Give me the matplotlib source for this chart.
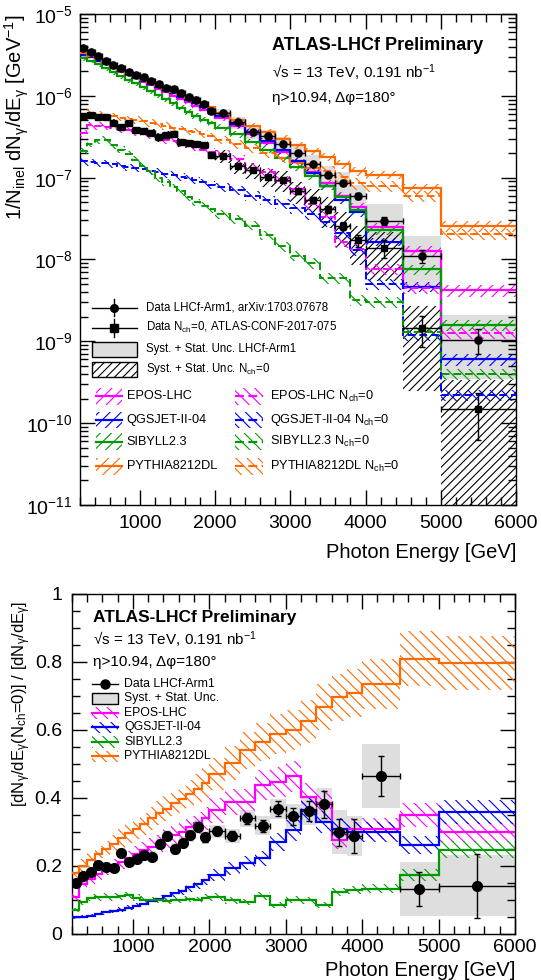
import numpy as np
import matplotlib
matplotlib.use("Agg")
import matplotlib.pyplot as plt
from matplotlib.patches import Rectangle
from matplotlib.lines import Line2D
from matplotlib.ticker import MultipleLocator, LogLocator, NullFormatter, FuncFormatter

plt.rcParams['font.family'] = ['Liberation Sans', 'DejaVu Sans']
plt.rcParams['mathtext.fontset'] = 'custom'
plt.rcParams['mathtext.rm'] = 'Liberation Sans'
plt.rcParams['mathtext.it'] = 'Liberation Sans:italic'
plt.rcParams['mathtext.bf'] = 'Liberation Sans:bold'
plt.rcParams['hatch.linewidth'] = 0.8

# ---------------- data ----------------
bin_edges = [200, 300, 400, 500, 600, 700, 800, 900, 1000, 1100, 1200, 1300, 1400, 1500,
             1600, 1700, 1800, 1900, 2000, 2200, 2400, 2600, 2800, 3000, 3200, 3400, 3600,
             3800, 4000, 4500, 5000, 6000]

incl_data = [3.81e-6, 3.40e-6, 3.07e-6, 2.69e-6, 2.38e-6, 2.17e-6, 1.97e-6, 1.79e-6, 1.68e-6,
             1.53e-6, 1.39e-6, 1.24e-6, 1.20e-6, 1.09e-6, 9.8e-7, 8.9e-7, 7.9e-7, 6.6e-7,
             6.1e-7, 4.74e-7, 3.64e-7, 3.23e-7, 2.55e-7, 1.98e-7, 1.47e-7, 1.08e-7, 8.7e-8,
             5.96e-8, 2.97e-8, 1.10e-8, 1.05e-9]
incl_stat = [0.01] * 18 + [0.015, 0.02, 0.02, 0.025, 0.03, 0.035, 0.04, 0.05, 0.06, 0.08,
                           0.12, 0.18, 0.33]
incl_syst_up = [0.07, 0.07, 0.07, 0.07, 0.07, 0.07, 0.08, 0.08, 0.09, 0.09, 0.09, 0.10, 0.10,
                0.10, 0.11, 0.11, 0.11, 0.12, 0.14, 0.16, 0.18, 0.20, 0.22, 0.25, 0.28, 0.30,
                0.33, 0.38, 0.60, 0.77, 1.00]
incl_syst_dn = [0.07, 0.07, 0.07, 0.07, 0.07, 0.07, 0.08, 0.08, 0.09, 0.09, 0.09, 0.10, 0.10,
                0.10, 0.11, 0.11, 0.11, 0.12, 0.14, 0.16, 0.18, 0.20, 0.22, 0.25, 0.28, 0.30,
                0.33, 0.38, 0.42, 0.60, 0.67]

nch0_data = [5.64e-7, 5.78e-7, 5.59e-7, 5.46e-7, 4.69e-7, 4.17e-7, 4.65e-7, 3.78e-7, 3.68e-7,
             3.53e-7, 3.14e-7, 3.29e-7, 3.46e-7, 2.70e-7, 2.63e-7, 2.58e-7, 2.48e-7, 1.87e-7,
             1.84e-7, 1.37e-7, 1.23e-7, 1.02e-7, 9.36e-8, 6.85e-8, 5.31e-8, 4.10e-8, 2.59e-8,
             1.71e-8, 1.38e-8, 1.44e-9, 1.48e-10]
nch0_stat_up = [0.02] * 18 + [0.03, 0.035, 0.04, 0.05, 0.06, 0.07, 0.08, 0.10, 0.12, 0.18,
                              0.25, 0.40, 0.57]
nch0_stat_dn = [0.02] * 18 + [0.03, 0.035, 0.04, 0.05, 0.06, 0.07, 0.08, 0.10, 0.12, 0.18,
                              0.25, 0.40, 0.58]
nch0_syst_up = [0.10] * 8 + [0.12] * 10 + [0.18, 0.20, 0.22, 0.25, 0.28, 0.30, 0.35, 0.40,
                                           0.45, 0.50, 0.55, 0.90, 1.30]
nch0_syst_dn = [0.10] * 8 + [0.12] * 10 + [0.18, 0.20, 0.22, 0.25, 0.28, 0.30, 0.35, 0.40,
                                           0.45, 0.50, 0.60, 0.83, 0.97]

ratio_data = [0.148, 0.170, 0.182, 0.203, 0.197, 0.192, 0.236, 0.211, 0.219, 0.231, 0.226,
              0.265, 0.288, 0.248, 0.268, 0.290, 0.314, 0.283, 0.301, 0.288, 0.339, 0.317,
              0.367, 0.346, 0.361, 0.380, 0.298, 0.287, 0.464, 0.131, 0.141]
ratio_stat = [0.004, 0.004, 0.004, 0.005, 0.005, 0.005, 0.006, 0.006, 0.007, 0.007, 0.008,
              0.009, 0.010, 0.010, 0.011, 0.012, 0.013, 0.014, 0.012, 0.013, 0.016, 0.018,
              0.022, 0.025, 0.030, 0.040, 0.040, 0.050, 0.058, 0.050, 0.094]
ratio_syst = [0.012, 0.012, 0.012, 0.012, 0.013, 0.013, 0.015, 0.015, 0.015, 0.016, 0.016,
              0.018, 0.018, 0.018, 0.020, 0.020, 0.020, 0.020, 0.020, 0.020, 0.025, 0.028,
              0.030, 0.035, 0.040, 0.050, 0.065, 0.060, 0.095, 0.080, 0.090]

models = ['EPOS-LHC', 'QGSJET-II-04', 'SIBYLL2.3', 'PYTHIA8212DL']
model_colors = ['#ff00ff', '#0000ff', '#009a00', '#ff6a00']

epos_incl = [3.25e-6, 3.0e-6, 2.7e-6, 2.42e-6, 2.17e-6, 1.97e-6, 1.79e-6, 1.63e-6, 1.48e-6,
             1.35e-6, 1.22e-6, 1.10e-6, 1.0e-6, 9.1e-7, 8.3e-7, 7.5e-7, 6.8e-7, 6.1e-7, 5.4e-7,
             4.3e-7, 3.4e-7, 2.65e-7, 2.05e-7, 1.55e-7, 1.18e-7, 8.5e-8, 6.0e-8, 4.4e-8, 2.5e-8,
             1.28e-8, 4.2e-9]
qgsjet_incl = [3.15e-6, 2.95e-6, 2.7e-6, 2.45e-6, 2.2e-6, 2.0e-6, 1.83e-6, 1.67e-6, 1.53e-6,
               1.40e-6, 1.28e-6, 1.17e-6, 1.07e-6, 9.8e-7, 8.9e-7, 8.1e-7, 7.3e-7, 6.6e-7,
               5.7e-7, 4.5e-7, 3.6e-7, 2.8e-7, 2.15e-7, 1.6e-7, 1.15e-7, 8.0e-8, 5.4e-8, 3.8e-8,
               1.65e-8, 4.6e-9, 6.0e-10]
sibyll_incl = [2.9e-6, 2.7e-6, 2.45e-6, 2.2e-6, 1.97e-6, 1.77e-6, 1.58e-6, 1.42e-6, 1.27e-6,
               1.14e-6, 1.02e-6, 9.1e-7, 8.1e-7, 7.2e-7, 6.4e-7, 5.7e-7, 5.1e-7, 4.6e-7, 4.1e-7,
               3.4e-7, 2.75e-7, 2.2e-7, 1.75e-7, 1.35e-7, 1.05e-7, 8.0e-8, 5.8e-8, 4.0e-8,
               2.29e-8, 7.6e-9, 1.58e-9]
pythia_incl = [3.35e-6, 3.1e-6, 2.8e-6, 2.5e-6, 2.25e-6, 2.05e-6, 1.87e-6, 1.72e-6, 1.58e-6,
               1.45e-6, 1.33e-6, 1.22e-6, 1.12e-6, 1.03e-6, 9.5e-7, 8.7e-7, 8.0e-7, 7.3e-7,
               6.2e-7, 5.1e-7, 4.3e-7, 3.6e-7, 3.0e-7, 2.5e-7, 2.1e-7, 1.8e-7, 1.45e-7, 1.2e-7,
               1.08e-7, 7.4e-8, 2.56e-8]

epos_nch0 = [3.5e-7, 4.4e-7, 4.3e-7, 4.2e-7, 4.1e-7, 3.9e-7, 3.8e-7, 3.6e-7, 3.5e-7, 3.3e-7,
             3.1e-7, 2.9e-7, 2.8e-7, 2.64e-7, 2.5e-7, 2.36e-7, 2.2e-7, 2.07e-7, 1.96e-7,
             1.67e-7, 1.32e-7, 1.16e-7, 9.1e-8, 7.2e-8, 4.7e-8, 3.3e-8, 1.65e-8, 1.36e-8,
             7.7e-9, 4.5e-9, 1.25e-9]
qgsjet_nch0 = [1.6e-7, 1.55e-7, 1.52e-7, 1.5e-7, 1.45e-7, 1.4e-7, 1.35e-7, 1.32e-7, 1.28e-7,
               1.22e-7, 1.17e-7, 1.12e-7, 1.08e-7, 1.03e-7, 9.8e-8, 9.3e-8, 8.8e-8, 8.2e-8,
               7.6e-8, 7.0e-8, 6.0e-8, 5.3e-8, 4.8e-8, 4.2e-8, 3.6e-8, 2.9e-8, 2.1e-8, 1.3e-8,
               5.0e-9, 1.2e-9, 2.2e-10]
sibyll_nch0 = [2.1e-7, 2.6e-7, 2.9e-7, 2.9e-7, 2.5e-7, 2.2e-7, 1.95e-7, 1.65e-7, 1.4e-7,
               1.2e-7, 1.0e-7, 8.8e-8, 7.6e-8, 6.8e-8, 5.8e-8, 5.0e-8, 4.5e-8, 4.1e-8, 3.6e-8,
               3.1e-8, 2.6e-8, 2.0e-8, 1.45e-8, 1.1e-8, 9.0e-9, 5.9e-9, 5.9e-9, 3.2e-9, 3.0e-9,
               1.3e-9, 4.0e-10]
pythia_nch0 = [5.9e-7, 6.2e-7, 6.0e-7, 5.8e-7, 5.6e-7, 5.4e-7, 5.2e-7, 5.1e-7, 4.9e-7, 4.7e-7,
               4.5e-7, 4.3e-7, 4.1e-7, 3.9e-7, 3.75e-7, 3.6e-7, 3.4e-7, 3.2e-7, 2.9e-7, 2.56e-7,
               2.3e-7, 2.0e-7, 1.76e-7, 1.5e-7, 1.31e-7, 1.2e-7, 1.01e-7, 8.5e-8, 7.9e-8, 6.0e-8,
               2.04e-8]

epos_ratio = [0.108, 0.146, 0.160, 0.175, 0.190, 0.200, 0.212, 0.222, 0.235, 0.245, 0.255,
              0.265, 0.280, 0.290, 0.300, 0.315, 0.325, 0.340, 0.363, 0.388, 0.388, 0.437,
              0.446, 0.463, 0.402, 0.385, 0.275, 0.309, 0.309, 0.349, 0.298]
qgsjet_ratio = [0.049, 0.050, 0.053, 0.058, 0.062, 0.066, 0.070, 0.076, 0.082, 0.088, 0.095,
                0.102, 0.110, 0.118, 0.126, 0.136, 0.146, 0.158, 0.172, 0.192, 0.207, 0.221,
                0.270, 0.304, 0.363, 0.329, 0.309, 0.299, 0.299, 0.260, 0.358]
sibyll_ratio = [0.069, 0.093, 0.105, 0.108, 0.108, 0.108, 0.110, 0.112, 0.105, 0.100, 0.098,
                0.100, 0.095, 0.098, 0.100, 0.102, 0.098, 0.106, 0.108, 0.098, 0.093, 0.110,
                0.085, 0.100, 0.098, 0.084, 0.123, 0.128, 0.132, 0.172, 0.247]
pythia_ratio = [0.177, 0.199, 0.216, 0.233, 0.248, 0.265, 0.280, 0.295, 0.309, 0.324, 0.339,
                0.354, 0.368, 0.383, 0.395, 0.412, 0.427, 0.442, 0.471, 0.502, 0.540, 0.564,
                0.587, 0.599, 0.625, 0.667, 0.696, 0.708, 0.736, 0.809, 0.797]

mc_incl_rel = [0.08] * 8 + [0.08] * 10 + [0.09, 0.09, 0.09, 0.10, 0.10, 0.10, 0.11, 0.11, 0.12,
                                          0.12, 0.12, 0.14, 0.16]
mc_nch0_rel = [0.10] * 8 + [0.11] * 10 + [0.12, 0.12, 0.13, 0.13, 0.14, 0.14, 0.15, 0.15, 0.16,
                                          0.16, 0.15, 0.15, 0.15]
mc_ratio_rel = 0.10

incl_models = [epos_incl, qgsjet_incl, sibyll_incl, pythia_incl]
nch0_models = [epos_nch0, qgsjet_nch0, sibyll_nch0, pythia_nch0]
ratio_models = [epos_ratio, qgsjet_ratio, sibyll_ratio, pythia_ratio]

# ---------------- helpers ----------------
e = np.array(bin_edges, dtype=float)
left = e[:-1]
width = np.diff(e)
cent = left + width / 2
hw = width / 2


def box(ax, lo, hi, **kw):
    lo = np.asarray(lo); hi = np.asarray(hi)
    ax.bar(left, hi - lo, bottom=lo, width=width, align='edge', **kw)


def style_axes(ax):
    ax.tick_params(which='both', direction='in', top=True, right=True, labelsize=14)
    ax.tick_params(which='major', length=11, width=1.0)
    ax.tick_params(which='minor', length=6, width=1.0)
    for s in ax.spines.values():
        s.set_linewidth(1.0)


fig = plt.figure(figsize=(5.41, 9.8), dpi=100)
W, H = 541.0, 980.0
ax1 = fig.add_axes([79.6 / W, 1 - 505 / H, 436.4 / W, 491 / H])
ax2 = fig.add_axes([71.7 / W, 1 - 933.5 / H, 443.3 / W, 339.5 / H])

# ---------------- top panel ----------------
incl = np.array(incl_data)
nch0 = np.array(nch0_data)

box(ax1, incl * (1 - np.array(incl_syst_dn)), incl * (1 + np.array(incl_syst_up)),
    color='#dedede', linewidth=0, zorder=1)
box(ax1, nch0 * (1 - np.array(nch0_syst_dn)), nch0 * (1 + np.array(nch0_syst_up)),
    fill=False, hatch='////', edgecolor='k', linewidth=0, zorder=2)

ri = np.array(mc_incl_rel)
rn = np.array(mc_nch0_rel)
for vals, col in zip(incl_models, model_colors):
    v = np.array(vals)
    box(ax1, v * (1 - ri), v * (1 + ri), fill=False, hatch='///', edgecolor=col,
        linewidth=0, zorder=3)
for vals, col in zip(nch0_models, model_colors):
    v = np.array(vals)
    box(ax1, v * (1 - rn), v * (1 + rn), fill=False, hatch='\\\\\\', edgecolor=col,
        linewidth=0, zorder=3)
for vals, col in zip(incl_models, model_colors):
    ax1.stairs(vals, e, color=col, lw=1.6, baseline=None, zorder=4)
for vals, col in zip(nch0_models, model_colors):
    ax1.stairs(vals, e, color=col, lw=1.4, ls=(0, (4, 2)), baseline=None, zorder=4)

ax1.errorbar(cent, incl, xerr=hw, yerr=incl * np.array(incl_stat), fmt='o', color='k', ms=5.2,
             lw=1.0, capsize=2, zorder=6)
ax1.errorbar(cent, nch0, xerr=hw,
             yerr=[nch0 * np.array(nch0_stat_dn), nch0 * np.array(nch0_stat_up)],
             fmt='s', color='k', ms=5.0, lw=1.0, capsize=2, zorder=6)

ax1.set_yscale('log')
ax1.set_xlim(200, 6000)
ax1.set_ylim(1e-11, 1e-5)
ax1.xaxis.set_major_locator(MultipleLocator(1000))
ax1.xaxis.set_minor_locator(MultipleLocator(200))
ax1.yaxis.set_major_locator(LogLocator(base=10, numticks=12))
ax1.yaxis.set_minor_locator(LogLocator(base=10, subs=np.arange(2, 10), numticks=12))
ax1.yaxis.set_minor_formatter(NullFormatter())
style_axes(ax1)
ax1.tick_params(axis='x', pad=7)
ax1.tick_params(axis='y', pad=5)

ax1.set_ylabel('1/N$_{\\mathrm{inel}}$ dN$_{\\mathrm{\u03b3}}$/dE$_{\\mathrm{\u03b3}}$ [GeV$^{\\mathrm{-1}}$]',
               fontsize=14.5, loc='top')
ax1.yaxis.set_label_coords(-0.112, 1.0)
ax1.set_xlabel('Photon Energy [GeV]', fontsize=14.5, loc='right')
ax1.xaxis.set_label_coords(1.0, -0.078)

ax1.text(0.441, 0.935, 'ATLAS-LHCf Preliminary', transform=ax1.transAxes, fontsize=13,
         fontweight='bold', va='center', ha='left')
ax1.text(0.441, 0.880, '\u221as = 13 TeV, 0.191 nb$^{\\mathrm{-1}}$', transform=ax1.transAxes,
         fontsize=11, va='center', ha='left')
ax1.text(0.441, 0.829, '\u03b7>10.94, \u0394\u03c6=180\u00b0', transform=ax1.transAxes,
         fontsize=11, va='center', ha='left')

# legend (top)
T = ax1.transAxes
lx0, lx1, tx = 0.028, 0.131, 0.152
rows = [0.402, 0.361, 0.317, 0.276]
for y, mk, lab in [(rows[0], 'o', 'Data LHCf-Arm1, arXiv:1703.07678'),
                   (rows[1], 's', 'Data N$_{\\mathrm{ch}}$=0, ATLAS-CONF-2017-075')]:
    ax1.add_line(Line2D([lx0, lx1], [y, y], color='k', lw=1.0, transform=T, zorder=7))
    ax1.add_line(Line2D([(lx0 + lx1) / 2] * 2, [y - 0.018, y + 0.018], color='k', lw=1.0,
                        transform=T, zorder=7))
    ax1.add_line(Line2D([(lx0 + lx1) / 2], [y], marker=mk, ms=5.5, color='k', transform=T,
                        zorder=7))
    ax1.text(tx, y, lab, transform=T, fontsize=8.3, va='center', ha='left')
ax1.add_patch(Rectangle((lx0, rows[2] - 0.015), lx1 - lx0, 0.03, transform=T,
                        facecolor='#dedede', edgecolor='k', lw=1.0, zorder=7))
ax1.text(tx, rows[2], 'Syst. + Stat. Unc. LHCf-Arm1', transform=T, fontsize=8.3,
         va='center', ha='left')
ax1.add_patch(Rectangle((lx0, rows[3] - 0.015), lx1 - lx0, 0.03, transform=T,
                        facecolor='white', edgecolor='k', hatch='////', lw=1.0, zorder=7))
ax1.text(tx, rows[3], 'Syst. + Stat. Unc. N$_{\\mathrm{ch}}$=0', transform=T, fontsize=8.3,
         va='center', ha='left')

mrows = [0.221, 0.173, 0.129, 0.079]
for y, name, col in zip(mrows, models, model_colors):
    for (a, b, t, hatch, ls, suffix) in [(0.038, 0.097, 0.108, '///', '-', ''),
                                          (0.356, 0.420, 0.436, '\\\\\\', (0, (4, 2)),
                                           ' N$_{\\mathrm{ch}}$=0')]:
        ax1.add_patch(Rectangle((a, y - 0.017), b - a, 0.034, transform=T, fill=False,
                                hatch=hatch, edgecolor=col, lw=0, zorder=7))
        ax1.add_line(Line2D([a, b], [y, y], color=col, lw=1.6, ls=ls, transform=T, zorder=8))
        ax1.text(t, y, name + suffix, transform=T, fontsize=9.2, va='center', ha='left')

# ---------------- bottom panel ----------------
rd = np.array(ratio_data)
rs = np.array(ratio_syst)
box(ax2, rd - rs, rd + rs, color='#dedede', linewidth=0, zorder=1)
for vals, col in zip(ratio_models, model_colors):
    v = np.array(vals)
    box(ax2, v * (1 - mc_ratio_rel), v * (1 + mc_ratio_rel), fill=False, hatch='\\\\\\',
        edgecolor=col, linewidth=0, zorder=3)
    ax2.stairs(vals, e, color=col, lw=1.6, baseline=None, zorder=4)
ax2.errorbar(cent, rd, xerr=hw, yerr=np.array(ratio_stat), fmt='o', color='k', ms=7,
             lw=1.0, capsize=2.5, zorder=6)

ax2.set_xlim(200, 6000)
ax2.set_ylim(0, 1)
ax2.xaxis.set_major_locator(MultipleLocator(1000))
ax2.xaxis.set_minor_locator(MultipleLocator(200))
ax2.yaxis.set_major_locator(MultipleLocator(0.2))
ax2.yaxis.set_minor_locator(MultipleLocator(0.05))
ax2.yaxis.set_major_formatter(FuncFormatter(lambda v, p: f'{v:g}'))
style_axes(ax2)
ax2.tick_params(axis='x', pad=4)
ax2.tick_params(axis='y', pad=7)

ax2.set_ylabel('[dN$_{\\mathrm{\u03b3}}$/dE$_{\\mathrm{\u03b3}}$(N$_{\\mathrm{ch}}$=0)] / '
               '[dN$_{\\mathrm{\u03b3}}$/dE$_{\\mathrm{\u03b3}}$]', fontsize=12, loc='top')
ax2.yaxis.set_label_coords(-0.088, 0.98)
ax2.set_xlabel('Photon Energy [GeV]', fontsize=14.5, loc='right')
ax2.xaxis.set_label_coords(1.0, -0.082)

T2 = ax2.transAxes
ax2.text(0.048, 0.932, 'ATLAS-LHCf Preliminary', transform=T2, fontsize=12.5,
         fontweight='bold', va='center', ha='left')
ax2.text(0.048, 0.864, '\u221as = 13 TeV, 0.191 nb$^{\\mathrm{-1}}$', transform=T2,
         fontsize=11, va='center', ha='left')
ax2.text(0.048, 0.800, '\u03b7>10.94, \u0394\u03c6=180\u00b0', transform=T2, fontsize=11,
         va='center', ha='left')

bx0, bx1, btx = 0.045, 0.105, 0.118
brows = [0.735 - 0.0427 * i for i in range(6)]
y = brows[0]
ax2.add_line(Line2D([bx0, bx1], [y, y], color='k', lw=1.0, transform=T2, zorder=7))
ax2.add_line(Line2D([(bx0 + bx1) / 2], [y], marker='o', ms=6.5, color='k', transform=T2,
                    zorder=7))
ax2.text(btx, y, 'Data LHCf-Arm1', transform=T2, fontsize=8.8, va='center', ha='left')
y = brows[1]
ax2.add_patch(Rectangle((bx0, y - 0.017), bx1 - bx0, 0.034, transform=T2,
                        facecolor='#dedede', edgecolor='k', lw=1.0, zorder=7))
ax2.text(btx, y, 'Syst. + Stat. Unc.', transform=T2, fontsize=8.8, va='center', ha='left')
for y, name, col in zip(brows[2:], models, model_colors):
    ax2.add_patch(Rectangle((bx0, y - 0.017), bx1 - bx0, 0.034, transform=T2, fill=False,
                            hatch='\\\\\\', edgecolor=col, lw=0, zorder=7))
    ax2.add_line(Line2D([bx0, bx1], [y, y], color=col, lw=1.6, transform=T2, zorder=8))
    ax2.text(btx, y, name, transform=T2, fontsize=8.8, va='center', ha='left')

fig.savefig('out.png', dpi=100)
